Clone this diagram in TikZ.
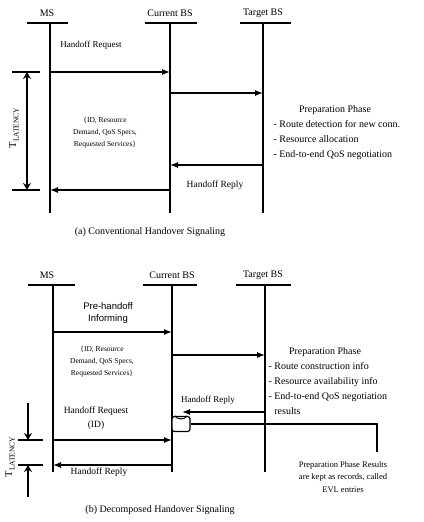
\documentclass[tikz,border=0pt]{standalone}
\usepackage{fontspec}
\setmainfont{Liberation Serif}
\newfontfamily\sansf{Liberation Sans}
\newcommand{\latsubfont}{\fontsize{7.5}{8}\selectfont}
\usetikzlibrary{arrows.meta}
\begin{document}
\begin{tikzpicture}[x=1pt,y=-1pt,
  lifeline/.style={line width=1.3pt},
  hline/.style={line width=1.6pt},
  msg/.style={line width=1.3pt,-{Latex[length=8pt,width=6pt]}},
  lat/.style={line width=1.2pt,-{Stealth[length=7pt,width=8pt]}},
  hdr/.style={font=\fontsize{10}{11}\selectfont},
  lbl/.style={font=\fontsize{9}{10}\selectfont, align=center},
  sml/.style={font=\fontsize{7.5}{12}\selectfont, align=center},
  prep/.style={font=\fontsize{10}{15}\selectfont, align=left},
  capt/.style={font=\fontsize{10}{11}\selectfont},
  latlbl/.style={rotate=90, font=\fontsize{10.5}{11}\selectfont},
]
\useasboundingbox (0,0) rectangle (423,522);

% ================= (a) =================
\node[hdr] (msA) at (47,13) {MS};
\node[hdr] (cbA) at (170,13) {Current BS};
\node[hdr] (tbA) at (263,13) {Target BS};
\draw[hline] (27,23) -- (68,23);
\draw[hline] (145,23) -- (197,23);
\draw[hline] (240,23) -- (291,23);
\coordinate (msAt) at (50,23);  \coordinate (msAb) at (50,213);
\coordinate (cbAt) at (170,23); \coordinate (cbAb) at (170,213);
\coordinate (tbAt) at (263,23); \coordinate (tbAb) at (263,213);
\draw[lifeline] (msAt) -- (msAb);
\draw[lifeline] (cbAt) -- (cbAb);
\draw[lifeline] (tbAt) -- (tbAb);

\coordinate (a1s) at (50,72);   \coordinate (a1e) at (170,72);
\coordinate (a2s) at (170,93);  \coordinate (a2e) at (263,93);
\coordinate (a3s) at (263,165); \coordinate (a3e) at (170,165);
\coordinate (a4s) at (170,190); \coordinate (a4e) at (50,190);
\draw[msg] (a1s) -- (a1e);
\draw[msg] (a2s) -- (a2e);
\draw[msg] (a3s) -- (a3e);
\draw[msg] (a4s) -- (a4e);

\node[lbl] (hrqA) at (91,45) {Handoff Request};
\node[sml] (idA) at (105,133) {\{ID, Resource\\Demand, QoS Specs,\\Requested Services\}};
\node[prep] (ppA) at (335,110) {Preparation Phase};
\node[prep, anchor=west] (ppAl) at (270,140) {- Route detection for new conn.\\- Resource allocation\\- End-to-end QoS negotiation};
\node[lbl, font=\fontsize{9.5}{10}\selectfont] (hrpA) at (215,185) {Handoff Reply};

% latency (a)
\draw[line width=1.3pt] (12,72) -- (40,72);
\draw[line width=1.3pt] (12,190) -- (40,190);
\coordinate (latAm) at (27,131);
\draw[lat] (latAm) -- (27,72);
\draw[lat] (latAm) -- (27,190);
\node[latlbl] (latA) at (14,128) {T\raisebox{-0.5ex}{\latsubfont LATENCY}};

\node[capt] (capA) at (150,232) {(a) Conventional Handover Signaling};

% ================= (b) =================
\node[hdr] (msB) at (47,275) {MS};
\node[hdr] (cbB) at (172,275) {Current BS};
\node[hdr] (tbB) at (263,275) {Target BS};
\draw[hline] (28,285) -- (75,285);
\draw[hline] (143,285) -- (197,285);
\draw[hline] (236,285) -- (291,285);
\coordinate (msBt) at (53,285);  \coordinate (msBb) at (53,472);
\coordinate (cbBt) at (172,285); \coordinate (cbBb) at (172,472);
\coordinate (tbBt) at (265,285); \coordinate (tbBb) at (265,472);
\draw[lifeline] (msBt) -- (msBb);
\draw[lifeline] (cbBt) -- (cbBb);
\draw[lifeline] (tbBt) -- (tbBb);

\coordinate (b1s) at (53,332);  \coordinate (b1e) at (172,332);
\coordinate (b2s) at (172,355); \coordinate (b2e) at (265,355);
\coordinate (b3s) at (265,412); \coordinate (b3e) at (182,412);
\coordinate (b4s) at (53,440);  \coordinate (b4e) at (172,440);
\coordinate (b5s) at (172,465); \coordinate (b5e) at (53,465);
\draw[msg] (b1s) -- (b1e);
\draw[msg] (b2s) -- (b2e);
\draw[msg] (b4s) -- (b4e);
\draw[msg] (b5s) -- (b5e);

% storage icon
\node[draw, line width=1.2pt, rounded corners=2.5pt, minimum width=18pt, minimum height=15pt, inner sep=0pt, fill=white] (db) at (181,424) {};
\draw[line width=1pt] ([xshift=-6pt]db.north) .. controls ([xshift=-4pt,yshift=-4pt]db.north) and ([xshift=4pt,yshift=-4pt]db.north) .. ([xshift=6pt]db.north);
\draw[msg] (b3s) -- (b3e);
\coordinate (evl) at (377,452);
\draw[lifeline] (db.east) -| (evl);

\node[lbl, font=\sansf\fontsize{9.5}{12.5}\selectfont] (pre) at (108,313) {Pre-handoff\\Informing};
\node[sml] (idB) at (102,362) {\{ID, Resource\\Demand, QoS Specs,\\Requested Services\}};
\node[prep] (ppB) at (325,352) {Preparation Phase};
\node[prep, anchor=north west] (ppBl) at (265,359) {- Route construction info\\- Resource availability info\\- End-to-end QoS negotiation\\\hphantom{- }results};
\node[lbl] (hrpB1) at (208,400) {Handoff Reply};
\node[lbl, font=\fontsize{9.5}{13.5}\selectfont] (hrqB) at (96,418) {Handoff Request\\(ID)};
\node[lbl, font=\fontsize{9.5}{10}\selectfont] (hrpB2) at (99,472) {Handoff Reply};
\node[lbl, font=\fontsize{8.5}{12.5}\selectfont] (res) at (343,477) {Preparation Phase Results\\are kept as records, called\\EVL entries};

% latency (b)
\draw[line width=1.3pt] (18,440) -- (43,440);
\draw[line width=1.3pt] (18,465) -- (43,465);
\coordinate (latBt) at (28,403);
\coordinate (latBb) at (28,497);
\draw[lat] (latBt) -- (28,440);
\draw[lat] (latBb) -- (28,465);
\node[latlbl] (latB) at (10,457) {T\raisebox{-0.5ex}{\latsubfont LATENCY}};

\node[capt] (capB) at (160,510) {(b) Decomposed Handover Signaling};
\end{tikzpicture}
\end{document}
